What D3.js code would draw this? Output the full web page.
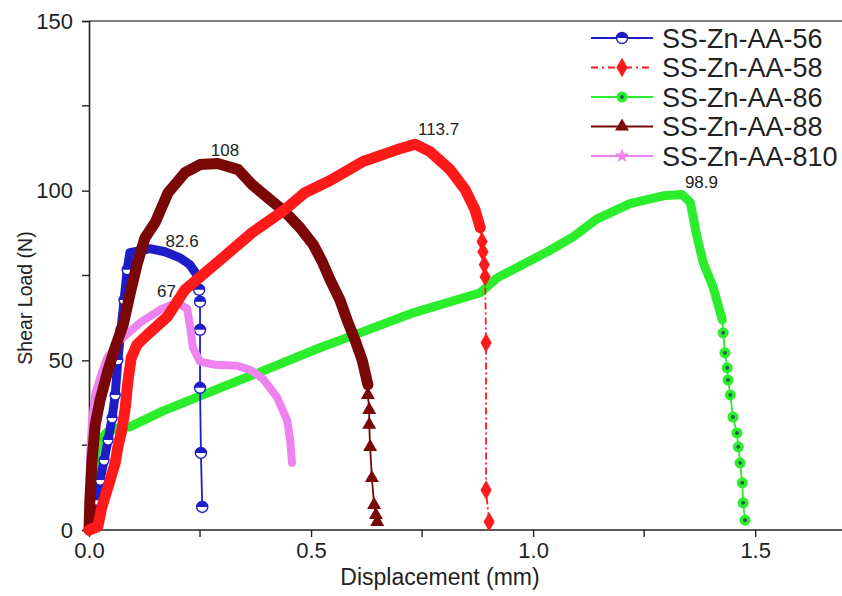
<!DOCTYPE html>
<meta charset="utf-8">
<script src="https://d3js.org/d3.v7.min.js"></script>
<style>
  body { margin: 0; background: #fff; }
  text { font-family: "Liberation Sans", Arial, sans-serif; fill: #222; }
</style>
<body>
<div id="chart"></div>
<script>
// [displacement mm, shear load N]
// "band" = dense part of each record, "tail" = sparse markers after fracture
var band56 = [[0,0],[0.007,2.9],[0.016,8.8],[0.025,14.7],[0.034,20.6],[0.043,26.5],[0.052,33.0],
  [0.059,39.8],[0.065,50.1],[0.072,59.0],[0.079,67.8],[0.086,76.7],[0.092,81.7],[0.115,82.3],
  [0.137,82.9],[0.171,82.0],[0.205,80.2],[0.227,78.2],[0.243,75.2]];
var tail56 = [[0.243,75.2],[0.248,70.8],[0.250,67.3],[0.250,59.0],[0.250,41.9],[0.252,22.7],[0.255,6.8]];

var band58 = [[0,0],[0.02,1.0],[0.029,6.8],[0.043,12.7],[0.059,19.8],[0.065,24.5],[0.074,29.5],
  [0.081,35.4],[0.088,44.2],[0.095,50.7],[0.108,54.6],[0.131,57.5],[0.176,62.8],[0.216,70.8],
  [0.291,79.1],[0.367,87.6],[0.441,94.4],[0.486,99.4],[0.543,103.0],[0.617,108.6],[0.694,112.1],
  [0.734,113.7],[0.768,111.5],[0.813,106.2],[0.847,100.3],[0.869,94.4],[0.881,89.1]];
var tail58 = [[0.881,89.1],[0.885,85.0],[0.887,82.0],[0.890,78.2],[0.892,74.6],[0.894,55.2],[0.894,11.8],[0.901,2.4]];

var band86 = [[0,0],[0.005,5.9],[0.009,14.7],[0.014,22.1],[0.025,26.5],[0.041,28.9],[0.065,30.1],
  [0.092,30.4],[0.167,35.1],[0.279,41.0],[0.392,46.9],[0.520,53.7],[0.604,57.8],[0.730,64.0],
  [0.881,69.9],[0.919,74.3],[1.032,82.0],[1.090,86.4],[1.144,91.7],[1.218,96.2],[1.293,98.5],
  [1.335,98.9],[1.354,96.5],[1.369,86.4],[1.383,78.8],[1.405,71.7],[1.426,61.9]];
var tail86 = [[1.426,61.9],[1.428,58.1],[1.432,52.2],[1.437,47.8],[1.439,44.2],[1.444,39.8],[1.450,33.3],
  [1.459,28.6],[1.462,24.5],[1.466,19.8],[1.471,13.9],[1.473,8.0],[1.477,2.9]];

var band88 = [[0,0],[0.002,8.8],[0.007,20.6],[0.014,31.0],[0.025,38.3],[0.043,47.2],[0.061,54.6],
  [0.077,60.5],[0.092,69.3],[0.108,78.2],[0.126,86.1],[0.149,90.6],[0.178,99.4],[0.216,105.3],
  [0.250,107.7],[0.290,108.0],[0.336,106.2],[0.367,101.8],[0.408,97.3],[0.441,93.8],[0.475,89.1],
  [0.505,84.1],[0.525,79.1],[0.543,73.7],[0.565,67.8],[0.581,61.9],[0.599,56.0],[0.615,50.1],[0.628,42.8]];
var tail88 = [[0.628,42.8],[0.628,39.8],[0.631,35.4],[0.631,31.0],[0.633,24.5],[0.637,15.3],[0.642,7.4],
  [0.646,4.4],[0.649,2.4]];

var band810 = [[0,0],[0,8.8],[0.002,20.6],[0.007,32.4],[0.014,39.8],[0.025,44.8],[0.041,50.7],
  [0.070,56.0],[0.115,61.1],[0.160,64.9],[0.198,67.0],[0.221,65.2],[0.227,60.5],[0.234,53.7],
  [0.250,49.6],[0.284,48.7],[0.333,48.4],[0.363,47.2],[0.392,44.5],[0.423,39.2],[0.446,32.4],
  [0.453,26.5],[0.457,19.8]];
var tail810 = [[0.457,19.8]];

var names = ["SS-Zn-AA-56", "SS-Zn-AA-58", "SS-Zn-AA-86", "SS-Zn-AA-88", "SS-Zn-AA-810"];
var colors = ["#1e1ec8", "#ff1a1a", "#2ced2c", "#7a0606", "#ee82ee"];

// peak annotations
var peakText = ["82.6", "113.7", "98.9", "108", "67"];
var peakX = [0.15, 0.734, 1.335, 0.29, 0.198];
var peakY = [82.6, 113.7, 98.9, 108, 67];

var xTicks = [0, 0.5, 1.0, 1.5];
var xMinor = [0.25, 0.75, 1.25];
var yTicks = [0, 50, 100, 150];
var yMinor = [25, 75, 125];

var W = 842, H = 596;
var svg = d3.select("#chart").append("svg")
  .attr("width", W).attr("height", H);

var x = d3.scaleLinear().domain([0, 1.7]).range([89, 844]);
var y = d3.scaleLinear().domain([0, 150]).range([530, 21]);

// frame top line
svg.append("line")
  .attr("x1", x(0)).attr("x2", W).attr("y1", y(150)).attr("y2", y(150))
  .attr("stroke", "#555").attr("stroke-width", 1.5);

// axes
var xAxis = svg.append("g").attr("transform", "translate(0," + y(0) + ")")
  .call(d3.axisBottom(x).tickValues(xTicks).tickFormat(d3.format(".1f")).tickSize(7).tickPadding(5));
xAxis.append("g").selectAll("line").data(xMinor).enter().append("line")
  .attr("x1", d => x(d)).attr("x2", d => x(d)).attr("y1", 0).attr("y2", 7);

var yAxis = svg.append("g").attr("transform", "translate(" + x(0) + ",0)")
  .call(d3.axisLeft(y).tickValues(yTicks).tickSize(7).tickPadding(9));
yAxis.append("g").selectAll("line").data(yMinor).enter().append("line")
  .attr("x1", -7).attr("x2", 0).attr("y1", d => y(d)).attr("y2", d => y(d));

[xAxis, yAxis].forEach(function(a) {
  a.selectAll("path.domain").attr("stroke", "#222").attr("stroke-width", 1.6);
  a.selectAll("line").attr("stroke", "#222").attr("stroke-width", 1.4);
  a.selectAll("text").attr("font-size", 22).attr("fill", "#222")
    .attr("font-family", "Liberation Sans, Arial, sans-serif");
});
xAxis.select("path.domain").attr("d", "M" + x(0) + ",0H" + W);

svg.append("text")
  .attr("x", 440).attr("y", 585).attr("text-anchor", "middle")
  .attr("font-size", 23).text("Displacement (mm)");
svg.append("text")
  .attr("transform", "translate(32,298) rotate(-90)")
  .attr("text-anchor", "middle").attr("font-size", 19.5).text("Shear Load (N)");

// marker shapes
function marker(g, i, px, py, s) {
  var c = colors[i];
  if (i === 0) {
    g.append("circle").attr("cx", px).attr("cy", py).attr("r", s)
      .attr("fill", "#fff").attr("stroke", c).attr("stroke-width", 1.4);
    g.append("path")
      .attr("d", "M" + (px - s) + "," + py + "A" + s + "," + s + " 0 0 1 " + (px + s) + "," + py + "Z")
      .attr("fill", c);
  } else if (i === 1) {
    g.append("path").attr("transform", "translate(" + px + "," + py + ")")
      .attr("d", d3.symbol(d3.symbolDiamond, s * s * 3.6)()).attr("fill", c);
  } else if (i === 2) {
    g.append("circle").attr("cx", px).attr("cy", py).attr("r", s).attr("fill", c);
    g.append("circle").attr("cx", px).attr("cy", py).attr("r", s * 0.35).attr("fill", "#1f5f4f");
  } else if (i === 3) {
    g.append("path").attr("transform", "translate(" + px + "," + py + ")")
      .attr("d", d3.symbol(d3.symbolTriangle, s * s * 2.8)()).attr("fill", c);
  } else {
    g.append("path").attr("transform", "translate(" + px + "," + py + ")")
      .attr("d", d3.symbol(d3.symbolStar, s * s * 2.2)()).attr("fill", c);
  }
}

var bands = [band56, band58, band86, band88, band810];
var tails = [tail56, tail58, tail86, tail88, tail810];
var bandWidth = [9, 11, 9, 11, 8];
var line = d3.line().x(d => x(d[0])).y(d => y(d[1]));

// draw order close to the original overlap: green under, red on top
var order = [2, 0, 4, 3, 1];
var plot = svg.append("g");
order.forEach(function(i) {
  var g = plot.append("g");
  g.append("path").datum(tails[i])
    .attr("fill", "none").attr("stroke", colors[i]).attr("stroke-width", 1.8)
    .attr("stroke-dasharray", i === 1 ? "7,3,2,3" : null)
    .attr("d", line);
  g.append("path").datum(bands[i])
    .attr("fill", "none").attr("stroke", colors[i])
    .attr("stroke-width", bandWidth[i])
    .attr("stroke-linejoin", "round").attr("stroke-linecap", "round")
    .attr("d", line);
  tails[i].slice(1).forEach(function(d) { marker(g, i, x(d[0]), y(d[1]), 5.5); });
  // blue rising part shows its markers through the band
  if (i === 0) band56.slice(2, 12).forEach(function(d) { marker(g, 0, x(d[0]), y(d[1]), 5); });
});

// peak labels
var labelDx = [10, 3, 3, -7, -1];
var labelDy = [-3, -9, -6, -8, -6];
peakText.forEach(function(t, k) {
  svg.append("text")
    .attr("x", x(peakX[k]) + labelDx[k]).attr("y", y(peakY[k]) + labelDy[k])
    .attr("text-anchor", k === 4 ? "end" : "start")
    .attr("font-size", 17).text(t);
});

// legend
var leg = svg.append("g");
names.forEach(function(n, i) {
  var ly = 38 + i * 29.5;
  leg.append("line").attr("x1", 591).attr("x2", 653).attr("y1", ly).attr("y2", ly)
    .attr("stroke", colors[i]).attr("stroke-width", 2)
    .attr("stroke-dasharray", i === 1 ? "7,4,2,4" : null);
  marker(leg, i, 622, ly, 5.5);
  leg.append("text").attr("x", 662).attr("y", ly + 9.5).attr("font-size", 27).text(n);
});
</script>
</body>
